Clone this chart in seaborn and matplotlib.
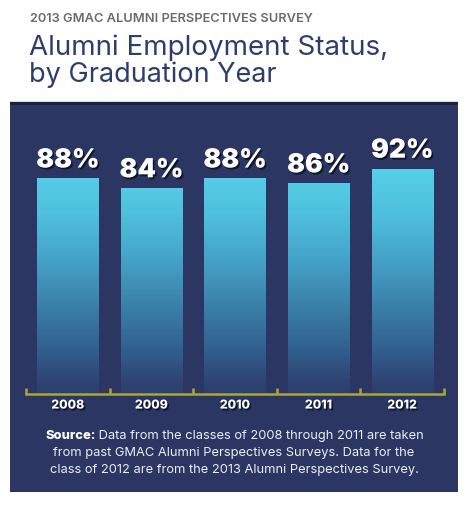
import numpy as np
import pandas as pd
import matplotlib
matplotlib.use("Agg")
import matplotlib.pyplot as plt
import matplotlib.patheffects as pe
from matplotlib.colors import LinearSegmentedColormap
from matplotlib.patches import Rectangle
import seaborn as sns

years = ["2008", "2009", "2010", "2011", "2012"]
employed_pct = [88, 84, 88, 86, 92]
value_labels = ["88%", "84%", "88%", "86%", "92%"]

kicker = "2013 GMAC ALUMNI PERSPECTIVES SURVEY"
title_lines = ["Alumni Employment Status,", "by Graduation Year"]
source_bold = "Source:"
source_lines = [
    " Data from the classes of 2008 through 2011 are taken",
    "from past GMAC Alumni Perspectives Surveys. Data for the",
    "class of 2012 are from the 2013 Alumni Perspectives Survey.",
]

NAVY = "#2b3762"
TITLE_COL = "#2f3d6b"
AXIS_COL = "#a9a63a"
FONT = ["Inter", "DejaVu Sans"]

sns.set_theme(style="white")
plt.rcParams["font.family"] = FONT

W, H = 467, 507
fig = plt.figure(figsize=(W / 100, H / 100), dpi=100)
fig.patch.set_facecolor("white")
renderer = fig.canvas.get_renderer()


def fit(t, target_px):
    for _ in range(3):
        w = t.get_window_extent(renderer).width
        if w > 0:
            t.set_fontsize(t.get_fontsize() * target_px / w)
    return t.get_fontsize()


# navy panel
fig.add_artist(Rectangle((10 / W, 1 - 492 / H), 448 / W, 390 / H,
                         transform=fig.transFigure, facecolor=NAVY,
                         edgecolor="none", zorder=0))
fig.add_artist(Rectangle((10 / W, 1 - 105 / H), 448 / W, 3 / H,
                         transform=fig.transFigure, facecolor="#1b2342",
                         edgecolor="none", zorder=0))
fig.add_artist(Rectangle((10 / W, 1 - 102 / H), 448 / W, 1.2 / H,
                         transform=fig.transFigure, facecolor="#d8d8d8",
                         edgecolor="none", zorder=0))

# titles
fit(fig.text(30 / W, 1 - 22 / H, kicker, fontsize=7.6, color="#6a6a6a",
             fontweight="semibold", ha="left", va="baseline"), 283)
fit(fig.text(29 / W, 1 - 55 / H, title_lines[0], fontsize=21, color=TITLE_COL,
             ha="left", va="baseline"), 359)
fit(fig.text(29 / W, 1 - 82 / H, title_lines[1], fontsize=21, color=TITLE_COL,
             ha="left", va="baseline"), 248)

# axes
ax = fig.add_axes([26 / W, 1 - 394 / H, 418 / W, 245 / H])
ax.set_facecolor("none")
df = pd.DataFrame({"year": years, "pct": employed_pct})
sns.barplot(data=df, x="year", y="pct", ax=ax, width=0.73,
            color="#4fc3df", saturation=1)
ax.set_xlim(-0.5, 4.5)
ax.set_ylim(0, 100)

cmap = LinearSegmentedColormap.from_list(
    "bargrad",
    [(0.0, "#2d3e6b"), (0.06, "#2e4574"), (0.2, "#31608f"),
     (0.4, "#3b82ab"), (0.62, "#46a6cb"), (0.8, "#4fc0dd"), (1.0, "#56d0e9")])
grad = np.linspace(0, 1, 256).reshape(-1, 1)
for p in list(ax.patches):
    x0, w, h = p.get_x(), p.get_width(), p.get_height()
    p.set_facecolor("none")
    p.set_edgecolor("none")
    im = ax.imshow(grad, cmap=cmap, origin="lower", aspect="auto",
                   extent=[x0, x0 + w, 0, 92], vmin=0, vmax=1, zorder=2)
    im.set_clip_path(p)
ax.set_xlim(-0.5, 4.5)
ax.set_ylim(0, 100)

shadow = [pe.withSimplePatchShadow(offset=(1.2, -1.4), shadow_rgbFace="#0b1124", alpha=0.85)]
vtexts = []
for i, (v, lab) in enumerate(zip(employed_pct, value_labels)):
    t = ax.text(i, v + 2.0, lab, ha="center", va="bottom", fontsize=18,
                fontweight="black", color="white",
                path_effects=shadow, zorder=5)
    vtexts.append(t)
vfs = fit(vtexts[0], 63)
for t in vtexts:
    t.set_fontsize(vfs)

for s in ["top", "right", "left"]:
    ax.spines[s].set_visible(False)
ax.spines["bottom"].set_color(AXIS_COL)
ax.spines["bottom"].set_linewidth(1.8)
ax.set_yticks([])
ax.set_xticks(range(len(years)))
ax.set_xticklabels(years, fontsize=9, fontweight="heavy", color="white")
ticklabs = ax.get_xticklabels()
yfs = fit(ticklabs[0], 33)
for t in ticklabs:
    t.set_fontsize(yfs)
    t.set_path_effects(shadow)
ax.tick_params(axis="x", length=0, pad=4)
ax.set_xlabel("")
ax.set_ylabel("")
for xb in [-0.5, 0.5, 1.5, 2.5, 3.5, 4.5]:
    ax.plot([xb, xb], [0, 2.6], color=AXIS_COL, lw=1.8, clip_on=False,
            solid_capstyle="butt", zorder=4)

# source note
y0 = 1 - 439 / H
dy = 17 / H
fs = 8.3
t1 = fig.text(45 / W, y0, source_bold, fontsize=fs, fontweight="heavy",
              color="white", ha="left", va="baseline")
t2 = fig.text(45 / W, y0, source_lines[0], fontsize=fs, color="#ececf2",
              ha="left", va="baseline")
for _ in range(3):
    wtot = t1.get_window_extent(renderer).width + t2.get_window_extent(renderer).width
    fs *= 379 / wtot
    t1.set_fontsize(fs)
    t2.set_fontsize(fs)
t2.set_x(t1.get_window_extent(renderer).x1 / W)
fig.text(234 / W, y0 - dy, source_lines[1], fontsize=fs, color="#ececf2",
         ha="center", va="baseline")
fig.text(234 / W, y0 - 2 * dy, source_lines[2], fontsize=fs, color="#ececf2",
         ha="center", va="baseline")

fig.savefig("out.png", dpi=100, facecolor="white")
